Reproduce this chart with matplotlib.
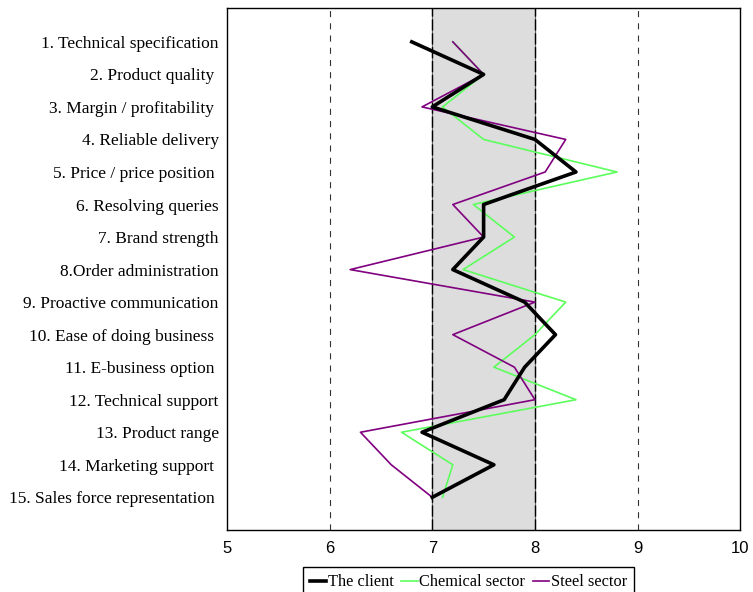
import matplotlib.pyplot as plt
import numpy as np

# Attribute list, top to bottom
attributes = [
    "1. Technical specification",
    "2. Product quality ",
    "3. Margin / profitability ",
    "4. Reliable delivery",
    "5. Price / price position ",
    "6. Resolving queries",
    "7. Brand strength",
    "8.Order administration",
    "9. Proactive communication",
    "10. Ease of doing business ",
    "11. E-business option ",
    "12. Technical support",
    "13. Product range",
    "14. Marketing support ",
    "15. Sales force representation ",
]

# Scores per attribute
client = [6.8, 7.5, 7.0, 8.0, 8.4, 7.5, 7.5, 7.2, 7.9, 8.2, 7.9, 7.7, 6.9, 7.6, 7.0]
chemical = [7.2, 7.5, 7.1, 7.5, 8.8, 7.4, 7.8, 7.3, 8.3, 8.0, 7.6, 8.4, 6.7, 7.2, 7.1]
steel = [7.2, 7.5, 6.9, 8.3, 8.1, 7.2, 7.5, 6.2, 8.0, 7.2, 7.8, 8.0, 6.3, 6.6, 7.0]

x_ticks = [5, 6, 7, 8, 9, 10]
band = (7, 8)

pos = np.arange(1, len(attributes) + 1)

fig = plt.figure(figsize=(7.53, 5.92), dpi=100)
ax = fig.add_axes([0.3015, 0.105, 0.6815, 0.882])

# shaded average band and reference lines
ax.axvspan(band[0], band[1], color="#dddddd", zorder=0)
for v in band:
    ax.axvline(v, color="#666666", lw=0.8, zorder=1)
    ax.axvline(v, color="black", lw=1.0, ls=(0, (8, 2)), zorder=1)
for v in [6, 9]:
    ax.axvline(v, color="#333333", lw=0.8, ls=(0, (5.5, 5.5)), zorder=1)

ax.plot(chemical, pos, color="#5cff5c", lw=1.2, zorder=2, label="Chemical sector")
ax.plot(steel, pos, color="#800080", lw=1.2, zorder=3, label="Steel sector")
ax.plot(client, pos, color="black", lw=2.6, zorder=4, label="The client")

ax.set_xlim(5, 10)
ax.set_ylim(16, -0.05)
ax.set_xticks(x_ticks)
ax.set_xticklabels([str(t) for t in x_ticks], fontfamily="Liberation Sans", fontsize=12)
ax.set_yticks(pos)
ax.set_yticklabels(attributes, fontfamily="Liberation Serif", fontsize=12.5)
ax.tick_params(axis="both", length=0)
ax.tick_params(axis="x", pad=8)
ax.tick_params(axis="y", pad=6)
for s in ax.spines.values():
    s.set_linewidth(1.0)
    s.set_color("black")

handles, labels = ax.get_legend_handles_labels()
order = [2, 0, 1]
leg = fig.legend([handles[i] for i in order], [labels[i] for i in order],
                 loc="upper center", bbox_to_anchor=(0.622, 0.056), ncol=3,
                 prop={"family": "Liberation Serif", "size": 11.8},
                 handlelength=1.0, handletextpad=0.1, columnspacing=0.45,
                 borderpad=0.45, fancybox=False, framealpha=1, edgecolor="black")
leg.get_frame().set_linewidth(1.0)

fig.savefig("out.png", dpi=100)
